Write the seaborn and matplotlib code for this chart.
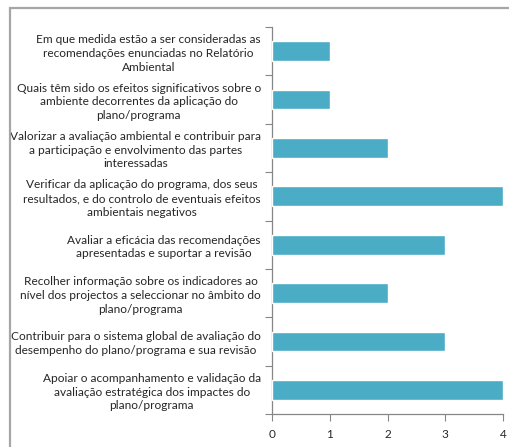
import matplotlib
matplotlib.use("Agg")
import matplotlib.pyplot as plt
from matplotlib.patches import Rectangle
from matplotlib.ticker import FixedLocator
import seaborn as sns
import pandas as pd
import numpy as np

categorias = [
    "Em que medida estão a ser consideradas as\nrecomendações enunciadas no Relatório\nAmbiental",
    "Quais têm sido os efeitos significativos sobre o\nambiente decorrentes da aplicação do\nplano/programa",
    "Valorizar a avaliação ambiental e contribuir para\na participação e envolvimento das partes\ninteressadas",
    "Verificar da aplicação do programa, dos seus\nresultados, e do controlo de eventuais efeitos\nambientais negativos",
    "Avaliar a eficácia das recomendações\napresentadas e suportar a revisão",
    "Recolher informação sobre os indicadores ao\nnível dos projectos a seleccionar no âmbito do\nplano/programa",
    "Contribuir para o sistema global de avaliação do\ndesempenho do plano/programa e sua revisão",
    "Apoiar o acompanhamento e validação da\navaliação estratégica dos impactes do\nplano/programa",
]
valores = [1, 1, 2, 4, 3, 2, 3, 4]
ticks_x = [0, 1, 2, 3, 4]

df = pd.DataFrame({"categoria": categorias, "valor": valores})

sns.set_theme(style="white")
plt.rcParams["font.family"] = ["Lato", "DejaVu Sans"]

fig = plt.figure(figsize=(5.09, 4.47), dpi=100)
fig.patch.set_facecolor("white")

# outer chart frame
fig.patches.append(Rectangle((10 / 509, -0.1), 1.2, 1 - 8 / 447 + 0.1,
                             transform=fig.transFigure, fill=False,
                             edgecolor="#a6a6a6", linewidth=1.6, zorder=0))

ax = fig.add_axes([272 / 509, 1 - 414 / 447, (503 - 272) / 509, (414 - 27) / 447])
sns.barplot(data=df, x="valor", y="categoria", orient="h", color="#4bacc6",
            saturation=1, width=0.41, ax=ax, zorder=3)

n = len(categorias)
ax.set_xlim(0, 4)
ax.set_ylim(n - 0.5, -0.5)
ax.set_xlabel("")
ax.set_ylabel("")
ax.set_xticks(ticks_x)
ax.set_xticklabels([str(t) for t in ticks_x], fontsize=8.5, color="#262626")

# category labels at the band centres, tick marks at the band boundaries
ax.yaxis.set_major_locator(FixedLocator(np.arange(-0.5, n, 1.0)))
ax.set_yticklabels([""] * (n + 1))
ax.yaxis.set_minor_locator(FixedLocator(np.arange(n)))
ax.set_yticklabels(categorias, minor=True, fontsize=8.6, color="#262626",
                   multialignment="center", linespacing=1.3)
ax.tick_params(axis="y", which="major", left=True, length=5, width=0.8, color="#868686")
ax.tick_params(axis="y", which="minor", left=True, length=0, pad=8)
ax.tick_params(axis="x", which="major", bottom=True, length=5, width=0.8,
               color="#868686", pad=6)

for s in ["top", "right"]:
    ax.spines[s].set_visible(False)
for s in ["left", "bottom"]:
    ax.spines[s].set_color("#868686")
    ax.spines[s].set_linewidth(0.9)

fig.savefig("out.png", dpi=100, facecolor="white")
